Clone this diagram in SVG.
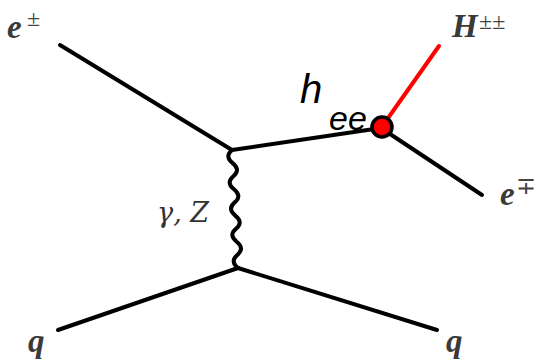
<svg xmlns="http://www.w3.org/2000/svg" width="537" height="361" viewBox="0 0 537 361">
<style>
.ln{stroke:#000;stroke-width:4;fill:none;stroke-linecap:round}
.m{font-family:"Liberation Serif",serif;font-style:italic;font-weight:bold;font-size:33px;fill:#3a3a3a}
.s{font-family:"Liberation Serif",serif;font-style:normal;font-size:24px;fill:#444}
.g{font-family:"DejaVu Serif",serif;font-style:italic;font-size:27px;fill:#333}
.h{font-family:"Liberation Sans",Arial,sans-serif;font-style:italic;fill:#000}
</style>
<rect width="537" height="361" fill="#fff"/>
<g id="connectors">
<line class="ln" x1="60" y1="45" x2="232" y2="150"/>
<line class="ln" x1="232" y1="150" x2="381" y2="128"/>
<line class="ln" x1="381" y1="128" x2="482" y2="195"/>
<line x1="381" y1="128" x2="439" y2="46" stroke="#f00" stroke-width="4" stroke-linecap="round"/>
<path class="ln" d="M232,150 Q224.3,156.6 232.7,163.1 Q241,169.7 233.3,176.2 Q225.7,182.8 234,189.3 Q242.3,196 234.7,202.4 Q227,209 235.3,215.6 Q243.7,222.1 236,228.7 Q228.3,235.2 236.7,241.8 Q245,248.3 237.3,254.9 Q229.7,261.4 238,268"/>
<line class="ln" x1="238" y1="268" x2="58" y2="330"/>
<line class="ln" x1="238" y1="268" x2="437" y2="330"/>
</g>
<g id="vertex">
<circle cx="382" cy="127" r="10" fill="#f00" stroke="#000" stroke-width="3.5"/>
</g>
<g id="label-eplus"><text class="m" x="7" y="38">e</text><text class="s" x="27" y="26">±</text></g>
<g id="label-H"><text class="m" x="452" y="37">H</text><text class="s" x="479" y="29">±±</text></g>
<g id="label-eminus"><text class="m" x="500" y="205">e</text><text class="s" x="516" y="194">∓</text></g>
<g id="label-gz"><text class="g" x="157" y="222">γ, Z</text></g>
<g id="label-q1"><text class="m" x="28" y="352">q</text></g>
<g id="label-q2"><text class="m" x="446" y="352">q</text></g>
<g id="label-hee"><text class="h" x="300" y="103" font-size="40">h</text><text class="h" x="329" y="130" font-size="34">ee</text></g>
</svg>
